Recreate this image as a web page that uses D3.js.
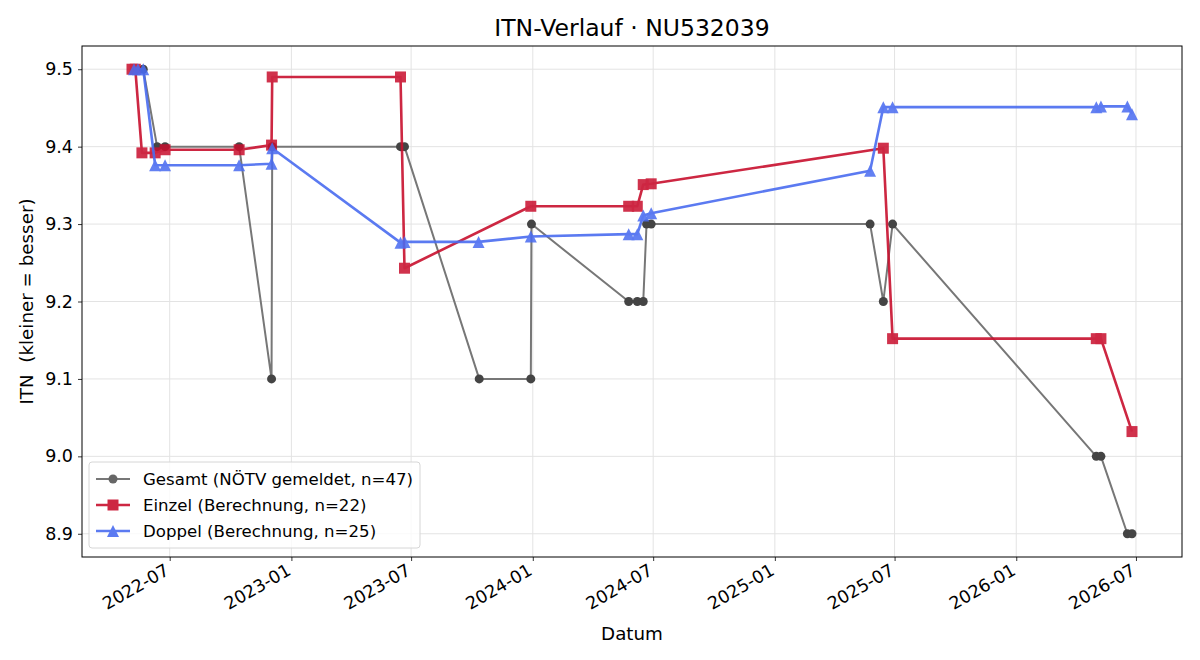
<!DOCTYPE html>
<html>
<head>
<meta charset="utf-8">
<script src="https://cdn.jsdelivr.net/npm/d3@7"></script>
<style>
	body { margin: 0; background: #fff; }
	text { font-family: "DejaVu Sans", sans-serif; }
</style>
</head>
<body>
<div id="ItnChartView"></div>
<script>

// values
var gesamtDaten = [
	["2022-05-22", 9.5], ["2022-06-12", 9.4], ["2022-06-24", 9.4], ["2022-10-14", 9.4],
	["2022-12-02", 9.1], ["2022-12-03", 9.4], ["2023-06-15", 9.4], ["2023-06-21", 9.4],
	["2023-10-12", 9.1], ["2023-12-29", 9.1], ["2023-12-30", 9.3], ["2024-05-25", 9.2],
	["2024-06-07", 9.2], ["2024-06-16", 9.2], ["2024-06-21", 9.3], ["2024-06-28", 9.3],
	["2025-05-25", 9.3], ["2025-06-14", 9.2], ["2025-06-28", 9.3], ["2026-05-02", 9.0],
	["2026-05-09", 9.0], ["2026-06-18", 8.9], ["2026-06-25", 8.9]
];

var einzelDaten = [
	["2022-05-05", 9.5], ["2022-05-10", 9.5], ["2022-05-20", 9.392], ["2022-06-09", 9.392],
	["2022-06-24", 9.396], ["2022-10-14", 9.396], ["2022-12-02", 9.402], ["2022-12-03", 9.49],
	["2023-06-15", 9.49], ["2023-06-21", 9.243], ["2023-12-29", 9.323], ["2024-05-25", 9.323],
	["2024-06-07", 9.323], ["2024-06-16", 9.351], ["2024-06-28", 9.352], ["2025-06-14", 9.398],
	["2025-06-28", 9.152], ["2026-05-02", 9.152], ["2026-05-09", 9.152], ["2026-06-25", 9.032]
];

var doppelDaten = [
	["2022-05-08", 9.5], ["2022-05-14", 9.5], ["2022-05-22", 9.5], ["2022-06-09", 9.376],
	["2022-06-24", 9.376], ["2022-10-14", 9.376], ["2022-12-02", 9.378], ["2022-12-03", 9.398],
	["2023-06-15", 9.276], ["2023-06-21", 9.277], ["2023-10-11", 9.277], ["2023-12-29", 9.284],
	["2024-05-25", 9.287], ["2024-06-07", 9.287], ["2024-06-16", 9.311], ["2024-06-28", 9.314],
	["2025-05-25", 9.369], ["2025-06-14", 9.451], ["2025-06-28", 9.451], ["2026-05-02", 9.451],
	["2026-05-09", 9.452], ["2026-06-18", 9.452], ["2026-06-25", 9.442]
];

var yTicks = [8.9, 9.0, 9.1, 9.2, 9.3, 9.4, 9.5];
var legendLabels = [
	"Gesamt (NÖTV gemeldet, n=47)",
	"Einzel (Berechnung, n=22)",
	"Doppel (Berechnung, n=25)"
];
var chartTitle = "ITN-Verlauf · NU532039";

ItnChart = function(){

	this.svg = null;
	this.x = null;
	this.y = null;
	this.init();
};

ItnChart.prototype.init = function(){

	this.svg = d3.select(ItnChart.div)
				.append("svg")
				.attr("width", ItnChart.width)
				.attr("height", ItnChart.height);

	var parse = d3.timeParse("%Y-%m-%d");
	this.series = [
		{ data: gesamtDaten, line: "#777777", lineWidth: 2, marker: "circle", fill: "#444444", opacity: 1 },
		{ data: einzelDaten, line: "#c8102e", lineWidth: 2.6, marker: "square", fill: "#c8102e", opacity: 0.9 },
		{ data: doppelDaten, line: "#4a6cf0", lineWidth: 2.6, marker: "triangle", fill: "#4a6cf0", opacity: 0.9 }
	];
	this.series.forEach(function(s){
		s.points = s.data.map(function(d){ return { date: parse(d[0]), value: d[1] }; });
	});

	var all = [];
	this.series.forEach(function(s){ all = all.concat(s.points); });

	// matplotlib style 5% margins
	var dExt = d3.extent(all, function(d){ return d.date.getTime(); });
	var dPad = (dExt[1] - dExt[0]) * 0.05;
	var vExt = d3.extent(all, function(d){ return d.value; });
	var vPad = (vExt[1] - vExt[0]) * 0.05;

	var m = ItnChart.margin;
	this.x = d3.scaleTime()
			.domain([new Date(dExt[0] - dPad), new Date(dExt[1] + dPad)])
			.range([m.left, ItnChart.width - m.right]);
	this.y = d3.scaleLinear()
			.domain([vExt[0] - vPad, vExt[1] + vPad])
			.range([ItnChart.height - m.bottom, m.top]);
};

ItnChart.prototype.drawGrid = function(){

	var that = this;
	var m = ItnChart.margin;
	var xTicks = this.x.ticks(d3.timeMonth.every(6));
	var g = this.svg.append("g").attr("class", "grid");

	g.selectAll(".gx").data(xTicks).enter().append("line")
		.attr("x1", function(d){ return that.x(d); })
		.attr("x2", function(d){ return that.x(d); })
		.attr("y1", m.top)
		.attr("y2", ItnChart.height - m.bottom)
		.attr("stroke", "#e3e3e3")
		.attr("stroke-width", 1);

	g.selectAll(".gy").data(yTicks).enter().append("line")
		.attr("x1", m.left)
		.attr("x2", ItnChart.width - m.right)
		.attr("y1", function(d){ return that.y(d); })
		.attr("y2", function(d){ return that.y(d); })
		.attr("stroke", "#e3e3e3")
		.attr("stroke-width", 1);
};

ItnChart.prototype.markerPath = function(type, size){

	var h = size / 2;
	if (type === "square") {
		return "M" + (-h) + "," + (-h) + "H" + h + "V" + h + "H" + (-h) + "Z";
	}
	if (type === "triangle") {
		return "M0," + (-h) + "L" + h + "," + h + "L" + (-h) + "," + h + "Z";
	}
	return d3.symbol().type(d3.symbolCircle).size(Math.PI * h * h)();
};

ItnChart.prototype.markerSize = function(type){
	if (type === "square") return 11;
	if (type === "triangle") return 12;
	return 9;
};

ItnChart.prototype.drawSeries = function(){

	var that = this;
	var line = d3.line()
				.x(function(d){ return that.x(d.date); })
				.y(function(d){ return that.y(d.value); });

	this.series.forEach(function(s){

		var g = that.svg.append("g").attr("opacity", s.opacity);

		g.append("path")
			.datum(s.points)
			.attr("d", line)
			.attr("fill", "none")
			.attr("stroke", s.line)
			.attr("stroke-width", s.lineWidth)
			.attr("stroke-linejoin", "round");

		var path = that.markerPath(s.marker, that.markerSize(s.marker));
		g.selectAll(".mk").data(s.points).enter().append("path")
			.attr("d", path)
			.attr("transform", function(d){ return "translate(" + that.x(d.date) + "," + that.y(d.value) + ")"; })
			.attr("fill", s.fill)
			.attr("fill-opacity", s.marker === "circle" ? 1 : 0.95);
	});
};

ItnChart.prototype.drawAxes = function(){

	var m = ItnChart.margin;
	var bottom = ItnChart.height - m.bottom;

	var xAxis = d3.axisBottom(this.x)
				.ticks(d3.timeMonth.every(6))
				.tickFormat(d3.timeFormat("%Y-%m"))
				.tickSize(4)
				.tickPadding(4);

	var gx = this.svg.append("g")
			.attr("transform", "translate(0," + bottom + ")")
			.call(xAxis);
	gx.select(".domain").remove();
	gx.selectAll(".tick line").attr("stroke", "#000").attr("stroke-width", 0.8);
	gx.selectAll(".tick text")
		.attr("font-size", 17.5)
		.attr("fill", "#000")
		.attr("text-anchor", "end")
		.attr("dy", "0.71em")
		.attr("transform", "translate(-6,6) rotate(-30)")
		.attr("y", 0)
		.attr("x", 0);

	var yAxis = d3.axisLeft(this.y)
				.tickValues(yTicks)
				.tickFormat(d3.format(".1f"))
				.tickSize(4)
				.tickPadding(5);

	var gy = this.svg.append("g")
			.attr("transform", "translate(" + m.left + ",0)")
			.call(yAxis);
	gy.select(".domain").remove();
	gy.selectAll(".tick line").attr("stroke", "#000").attr("stroke-width", 0.8);
	gy.selectAll(".tick text").attr("font-size", 17.5).attr("fill", "#000");

	// frame
	this.svg.append("rect")
		.attr("x", m.left)
		.attr("y", m.top)
		.attr("width", ItnChart.width - m.left - m.right)
		.attr("height", ItnChart.height - m.top - m.bottom)
		.attr("fill", "none")
		.attr("stroke", "#000")
		.attr("stroke-width", 1);

	var cx = (m.left + ItnChart.width - m.right) / 2;

	this.svg.append("text")
		.attr("x", cx)
		.attr("y", 640)
		.attr("text-anchor", "middle")
		.attr("font-size", 18.3)
		.text("Datum");

	this.svg.append("text")
		.attr("transform", "translate(33," + ((m.top + bottom) / 2) + ") rotate(-90)")
		.attr("text-anchor", "middle")
		.attr("font-size", 18.3)
		.style("white-space", "pre")
		.text("ITN  (kleiner = besser)");

	this.svg.append("text")
		.attr("x", cx)
		.attr("y", 36)
		.attr("text-anchor", "middle")
		.attr("font-size", 23.5)
		.text(chartTitle);
};

ItnChart.prototype.drawLegend = function(){

	var that = this;
	var g = this.svg.append("g").attr("transform", "translate(89,462)");

	g.append("rect")
		.attr("width", 331)
		.attr("height", 86)
		.attr("rx", 3)
		.attr("fill", "#fff")
		.attr("fill-opacity", 0.8)
		.attr("stroke", "#d6d6d6")
		.attr("stroke-width", 1);

	this.series.forEach(function(s, i){

		var row = g.append("g")
				.attr("transform", "translate(0," + (17 + i * 26) + ")")
				.attr("opacity", s.opacity);

		row.append("line")
			.attr("x1", 7).attr("x2", 41)
			.attr("stroke", s.line)
			.attr("stroke-width", s.lineWidth);

		row.append("path")
			.attr("d", that.markerPath(s.marker, that.markerSize(s.marker)))
			.attr("transform", "translate(24,0)")
			.attr("fill", s.marker === "circle" ? "#666" : s.fill);

		g.append("text")
			.attr("x", 54)
			.attr("y", 17 + i * 26)
			.attr("dy", "0.35em")
			.attr("font-size", 16.6)
			.text(legendLabels[i]);
	});
};

ItnChart.prototype.render = function(){

	this.drawGrid();
	this.drawSeries();
	this.drawAxes();
	this.drawLegend();
};

ItnChart.width = 1200;
ItnChart.height = 660;
ItnChart.margin = { top: 46, right: 18, bottom: 103, left: 82 };
ItnChart.div = "#ItnChartView";

var chart = new ItnChart();
chart.render();

</script>
</body>
</html>
